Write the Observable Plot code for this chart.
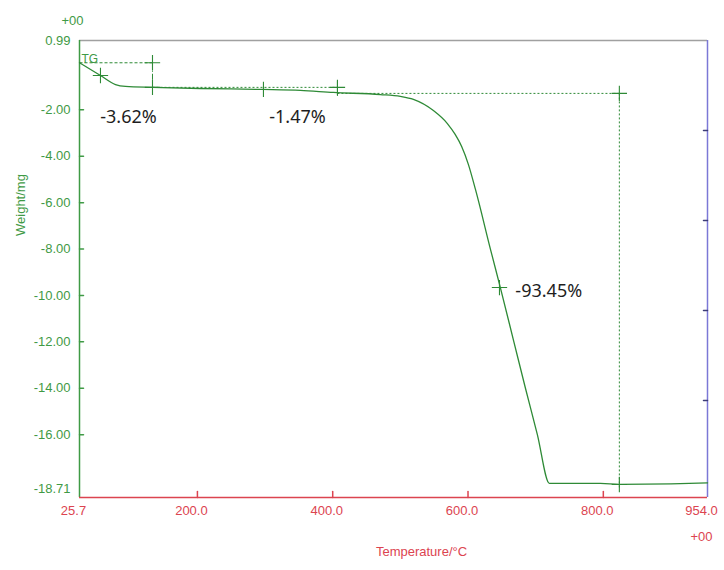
<!DOCTYPE html>
<html>
<head>
<meta charset="utf-8">
<script src="https://cdn.jsdelivr.net/npm/d3@7"></script>
<script src="https://cdn.jsdelivr.net/npm/@observablehq/plot@0.6"></script>
<style>
  html, body { margin: 0; padding: 0; background: #fff; }
  #chart { width: 724px; height: 570px; }
</style>
</head>
<body>
<div id="chart"></div>
<script>
// TG curve (temperature °C, weight mg)
const temps   = [25.7, 56.7, 78.9, 93.7, 133.6, 204.5, 296.1, 352.3, 401, 470.5, 500.0, 519.3, 548.8, 569.5, 581.0, 590.6, 600.5, 611.0, 633.1, 647.8, 667.8, 684.9, 702.5, 720.3, 795.6, 823.7, 900.0, 954.0];
const weights = [0.03, -0.52, -0.91, -0.99, -1.03, -1.08, -1.12, -1.16, -1.25, -1.34, -1.42, -1.55, -2.03, -2.59, -3.06, -3.58, -4.35, -5.43, -8.00, -9.66, -12.0, -14.0, -16.0, -18.10, -18.10, -18.14, -18.12, -18.08];

// Step-analysis guide segments
const segT1 = [25.7, 133.6, 133.6, 407.0, 407.0, 823.7];
const segW1 = [0.03, 0.03, -1.03, -0.75, -1.29, -1.29];
const segT2 = [133.6, 133.6, 407.0, 407.0, 823.7, 823.7];
const segW2 = [0.03, -1.03, -1.03, -1.40, -1.29, -18.30];
const segStyle = ["dash", "dashdot", "dot", "solid", "dot", "dot"];

// Cross markers
const markerTemps   = [56.7, 133.6, 133.6, 297.6, 407.0, 823.7, 823.7, 646.5];
const markerWeights = [-0.52, 0.03, -1.03, -1.12, -1.03, -1.29, -18.15, -9.66];

// Percentage annotations
const labelTexts   = ["-3.62%", "-1.47%", "-93.45%"];
const labelTemps   = [98.1, 347.9, 670.0];
const labelWeights = [-2.33, -2.33, -9.83];
const labelAnchors = ["middle", "middle", "start"];

// Axis ticks
const xTicks = [25.7, 200, 400, 600, 800, 954];
const xTickMarks = [200, 400, 600, 800];
const yTicks = [0.99, -2, -4, -6, -8, -10, -12, -14, -16];
const yBottom = [-18.71];
const yTickMarks = [-2, -4, -6, -8, -10, -12, -14, -16];
const rightTicks = [-2.89, -6.77, -10.65, -14.53];

const xMin = 25.7, xMax = 954, yMin = -18.71, yMax = 0.99;

const curve = temps.map((t, i) => ({t, w: weights[i]}));
const segs = segT1.map((t, i) => ({x1: t, y1: segW1[i], x2: segT2[i], y2: segW2[i], style: segStyle[i]}));
const markers = markerTemps.map((t, i) => ({t, w: markerWeights[i]}));
const labels = labelTexts.map((s, i) => ({s, t: labelTemps[i], w: labelWeights[i], a: labelAnchors[i]}));

const GREEN = "#3f9a45", CURVE = "#2e8a36", RED = "#dc4450", BLUE = "#7b78d6", GRAY = "#a0a0a0";
const line = {draw(ctx, l) { ctx.moveTo(0, 0); ctx.lineTo(0, -l); }};
const dashes = {dash: "3,2", dashdot: "6,2,1,2", dot: "2,2", solid: null};
const segMarks = Object.keys(dashes).map(k =>
  Plot.link(segs, {filter: d => d.style === k, x1: "x1", y1: "y1", x2: "x2", y2: "y2",
    stroke: CURVE, strokeWidth: 1, strokeDasharray: dashes[k] || undefined}));

const chart = Plot.plot({
  width: 724, height: 570,
  marginTop: 40, marginBottom: 73, marginLeft: 79, marginRight: 17,
  x: {domain: [xMin, xMax]},
  y: {domain: [yMin, yMax]},
  style: {fontFamily: "'Liberation Sans', Arial, sans-serif", fontSize: "13px", background: "#fff", overflow: "visible"},
  marks: [
    // frame lines
    Plot.ruleY([yMax], {stroke: GRAY, strokeWidth: 1.5}),
    Plot.ruleX([xMin], {stroke: GREEN, strokeWidth: 1.5}),
    Plot.ruleX([xMax], {stroke: BLUE, strokeWidth: 1.5}),
    Plot.ruleY([yMin], {stroke: RED, strokeWidth: 1.5}),
    // tick marks
    Plot.vector(xTickMarks, {x: d => d, y: yMin, length: 6, rotate: 0, anchor: "start", shape: line, stroke: RED}),
    Plot.vector(yTickMarks, {x: xMin, y: d => d, length: 4, rotate: 90, anchor: "start", shape: line, stroke: GREEN}),
    Plot.vector(rightTicks, {x: xMax, y: d => d, length: 4, rotate: -90, anchor: "start", shape: line, stroke: "#3c3c78"}),
    // axes labels
    Plot.axisX(xTicks, {tickSize: 0, tickPadding: 8, dx: -6, tickFormat: d => d.toFixed(1), color: RED, fontSize: 13}),
    Plot.axisY(yTicks, {tickSize: 0, tickPadding: 9, tickFormat: d => d.toFixed(2), color: GREEN, fontSize: 13}),
    Plot.axisY(yBottom, {tickSize: 0, tickPadding: 9, dy: -9, tickFormat: d => d.toFixed(2), color: GREEN, fontSize: 13}),
    Plot.text(["+00"], {frameAnchor: "top-left", dx: -18, dy: -25, fill: GREEN, fontSize: 13}),
    Plot.text(["+00"], {frameAnchor: "bottom-right", dx: 5, dy: 43, fill: RED, fontSize: 13}),
    Plot.text(["Weight/mg"], {frameAnchor: "left", dx: -59, dy: -33, rotate: -90, fill: GREEN, fontSize: 13}),
    Plot.text(["Temperature/°C"], {frameAnchor: "bottom", dx: 28, dy: 58, fill: RED, fontSize: 13}),
    Plot.text(["TG"], {frameAnchor: "top-left", dx: 2, dy: 14, textAnchor: "start", fill: GREEN, fontSize: 12}),
    // step guides
    ...segMarks,
    // curve
    Plot.line(curve, {x: "t", y: "w", stroke: CURVE, strokeWidth: 1.3, curve: "monotone-x"}),
    // markers
    Plot.dot(markers, {x: "t", y: "w", symbol: "plus", r: 5, stroke: CURVE, strokeWidth: 1.1}),
    // annotations
    Plot.text(labels, {x: "t", y: "w", text: "s", textAnchor: "start", fill: "#1e1e1e", fontSize: 18, fontFamily: "'Noto Sans', sans-serif", filter: d => d.a === "start"}),
    Plot.text(labels, {x: "t", y: "w", text: "s", textAnchor: "middle", fill: "#1e1e1e", fontSize: 18, fontFamily: "'Noto Sans', sans-serif", filter: d => d.a === "middle"})
  ]
});
document.getElementById("chart").appendChild(chart);
</script>
</body>
</html>
